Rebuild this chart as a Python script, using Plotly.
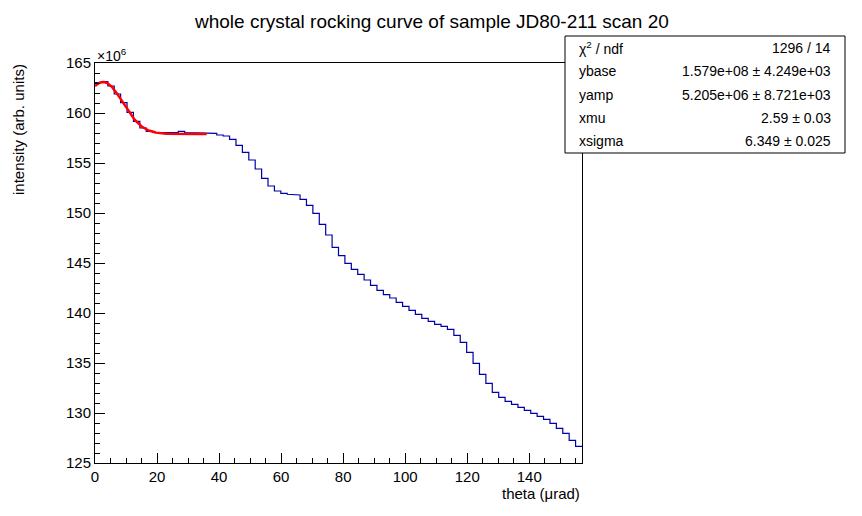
import numpy as np
import plotly.graph_objects as go

# histogram contents, units of 1e6
counts = [163.03, 163.13, 162.7, 161.9, 161.03, 160.07, 159.17, 158.5, 158.17, 158.07,
          158.03, 158.03, 158.03, 158.17, 158.03, 158.03, 158.03, 158.03,
          157.97, 157.8, 157.7, 157.37, 156.77, 156.07, 155.3, 154.4, 153.47, 152.7,
          152.2, 151.97, 151.87, 151.8, 151.37, 150.77, 149.97, 148.87, 147.8,
          146.57, 145.73, 144.97, 144.37, 143.87, 143.3, 142.77, 142.27, 141.83, 141.5,
          141.07, 140.67, 140.27, 139.87, 139.47, 139.17, 138.87, 138.67, 138.37, 137.77,
          137.07, 136.07, 134.97, 133.87, 132.97, 132.07, 131.57, 131.17, 130.87, 130.57,
          130.27, 129.97, 129.67, 129.37, 128.97, 128.47, 127.97, 127.27, 126.67]
theta_min, theta_max = 0.0, 157.0

# fit parameters
ybase, yamp, xmu, xsigma = 1.579e8, 5.205e6, 2.59, 6.349
fit_range = (0.0, 36.0)

stat_labels = ["χ<sup>2</sup> / ndf", "ybase", "yamp", "xmu", "xsigma"]
stat_values = ["1296 / 14", "1.579e+08 ± 4.249e+03", "5.205e+06 ± 8.721e+03",
               "2.59 ± 0.03", "6.349 ± 0.025"]

edges = np.linspace(theta_min, theta_max, len(counts) + 1)
hx = np.repeat(edges, 2)[1:-1]
hy = np.repeat(counts, 2)

fx = np.linspace(fit_range[0], fit_range[1], 200)
fy = (ybase + yamp * np.exp(-0.5 * ((fx - xmu) / xsigma) ** 2)) / 1e6

fig = go.Figure()
fig.add_trace(go.Scatter(x=hx, y=hy, mode="lines", line=dict(color="#0000aa", width=1.2),
                         showlegend=False))
fig.add_trace(go.Scatter(x=fx, y=fy, mode="lines", line=dict(color="red", width=2.5),
                         showlegend=False))

font = dict(family="Liberation Sans, Arial, sans-serif", color="black")
axis_common = dict(showline=True, linecolor="black", linewidth=1, mirror=True,
                   ticks="inside", ticklen=10, tickcolor="black", showgrid=False,
                   zeroline=False, tickfont=dict(size=15, **font))
fig.update_xaxes(range=[theta_min, theta_max], dtick=20, tick0=0,
                 minor=dict(ticks="inside", ticklen=5, dtick=5, tickcolor="black"),
                 **axis_common)
fig.update_yaxes(range=[125, 165], dtick=5, tick0=125,
                 minor=dict(ticks="inside", ticklen=5, dtick=1, tickcolor="black"),
                 **axis_common)

# page body adds an 8px margin, so the figure is 8px smaller each way
OFF = 8
W, H = 862 - OFF, 516 - OFF
L, R, T, B = 95, 582, 63, 463  # plot frame in window pixels


def px(x):
    return (x - L) / (R - L)


def py(y):
    return (B - y) / (B - T)


ann = [
    dict(text="whole crystal rocking curve of sample JD80-211 scan 20", x=px(431), xref="paper",
         y=py(22), yref="paper", xanchor="center", yanchor="middle", showarrow=False,
         font=dict(size=19, **font)),
    dict(text="intensity (arb. units)", x=px(18), xref="paper", y=py(130), yref="paper",
         textangle=-90, xanchor="center", yanchor="middle", showarrow=False,
         font=dict(size=15, **font)),
    dict(text="theta (μrad)", x=1, xref="paper", y=py(493), yref="paper",
         xanchor="right", yanchor="middle", showarrow=False, font=dict(size=15, **font)),
    dict(text="×10<sup>6</sup>", x=0, xref="paper", y=py(55), yref="paper",
         xanchor="left", yanchor="middle", showarrow=False, font=dict(size=14, **font)),
]
box_l, box_r, box_t, box_b = 565, 845, 36, 153
row_h = (box_b - box_t) / len(stat_labels)
for i, (lab, val) in enumerate(zip(stat_labels, stat_values)):
    yc = py(box_t + row_h * (i + 0.5))
    ann.append(dict(text=lab, x=px(box_l + 12), xref="paper", y=yc, yref="paper",
                    xanchor="left", yanchor="middle", showarrow=False, font=dict(size=14, **font)))
    ann.append(dict(text=val, x=px(box_r - 12), xref="paper", y=yc, yref="paper",
                    xanchor="right", yanchor="middle", showarrow=False, font=dict(size=14, **font)))

fig.update_layout(
    width=W, height=H,
    margin=dict(l=L - OFF, r=W - (R - OFF), t=T - OFF, b=H - (B - OFF)),
    paper_bgcolor="white", plot_bgcolor="white", annotations=ann,
    shapes=[dict(type="rect", xref="paper", yref="paper", x0=px(box_l), x1=px(box_r),
                 y0=py(box_b), y1=py(box_t), line=dict(color="black", width=1),
                 fillcolor="white", layer="above")],
)

fig.write_html("out.html")
